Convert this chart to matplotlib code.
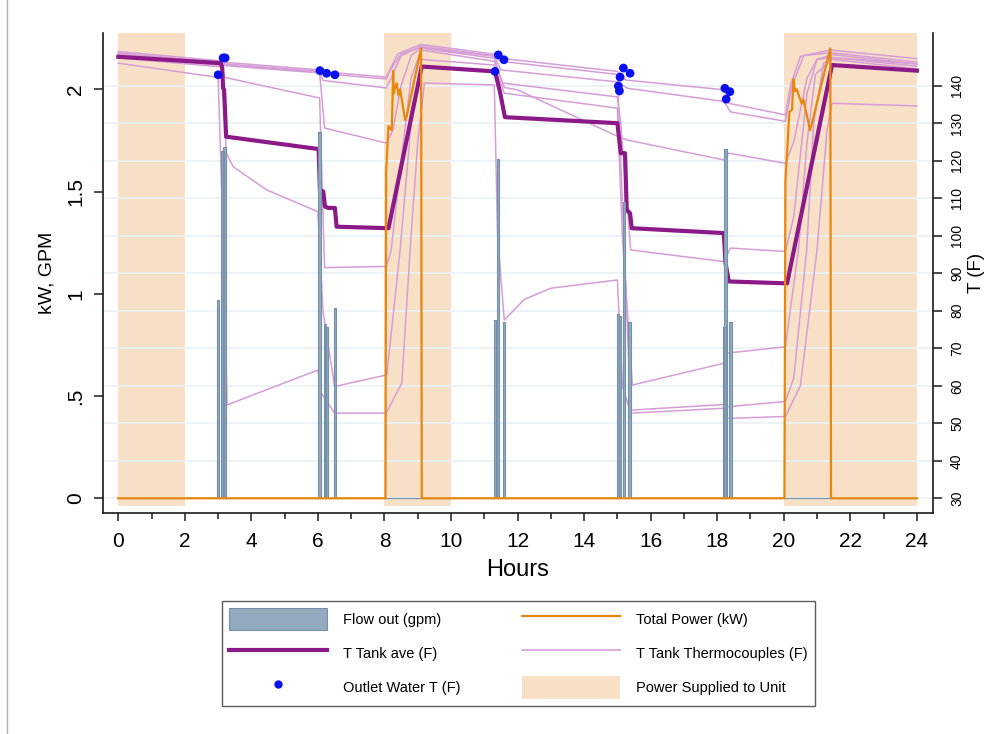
import matplotlib
matplotlib.use('Agg')
import matplotlib.pyplot as plt
from matplotlib.lines import Line2D
from matplotlib.patches import Patch

plt.rcParams['font.family'] = ['Liberation Sans', 'DejaVu Sans']

# --- data (hours, value) ---
shade_start = [0, 8, 20]
shade_end = [2, 10, 24]

# flow out spikes (gpm)
flow_t = [3.00, 3.13, 3.20, 6.05, 6.21, 6.26, 6.51, 11.32, 11.41, 11.59,
          15.02, 15.08, 15.20, 15.37, 18.22, 18.25, 18.40]
flow_gpm = [0.97, 1.70, 1.72, 1.79, 0.85, 0.84, 0.93, 0.87, 1.66, 0.86,
            0.90, 0.89, 1.45, 0.86, 0.84, 1.71, 0.86]

# total power (kW)
power_h = [0, 8.03, 8.05, 8.12, 8.22, 8.26, 8.28, 8.32, 8.37, 8.42, 8.47, 8.62, 8.67, 9.10, 9.12,
           20.02, 20.05, 20.17, 20.25, 20.29, 20.34, 20.39, 20.54, 20.59, 20.79, 20.84, 21.40, 21.42, 24]
power_kw = [0, 0, 1.60, 1.82, 1.80, 2.09, 1.98, 2.01, 2.03, 1.97, 2.00, 1.85, 1.87, 2.20, 0,
            0, 1.55, 1.89, 1.90, 2.05, 1.99, 2.00, 1.93, 1.95, 1.80, 1.83, 2.20, 0, 0]

# tank average temperature (F)
ave_h = [0, 3.08, 3.12, 3.15, 3.18, 3.24, 6.02, 6.06, 6.16, 6.21, 6.31, 6.51, 6.56, 8.12, 9.12,
         11.32, 11.47, 11.62, 15.0, 15.1, 15.23, 15.28, 15.38, 15.43, 18.2, 18.25, 18.35, 20.1, 21.45, 24]
ave_T = [147.7, 146.0, 145.0, 139.3, 138.9, 126.4, 123.1, 112.2, 111.8, 107.8, 107.4, 107.4, 102.4, 102.0, 145.1,
         143.8, 138.4, 131.6, 130.0, 122.0, 122.0, 106.9, 106.0, 102.0, 100.7, 92.7, 87.8, 87.3, 145.5, 144.0]

# individual thermocouples (hours, F)
tc1 = [(0, 149.1), (3.1, 146.6), (3.25, 146.2), (6.05, 144.2), (6.15, 143.7), (8.05, 142.3), (8.15, 144),
       (8.4, 148.5), (9.1, 151), (11.3, 148.4), (11.5, 147.3), (15.0, 143.8), (15.25, 141.5), (18.2, 138.9),
       (18.35, 135.3), (20.05, 132.2), (20.2, 140), (20.5, 147.8), (21.4, 149.5), (24, 147.2)]
tc2 = [(0, 148.7), (3.1, 146.2), (3.25, 145.8), (6.05, 143.8), (6.15, 141.4), (8.05, 139.4), (8.2, 142),
       (8.5, 148), (9.1, 150.5), (11.3, 148), (11.5, 144.2), (15.0, 141), (15.3, 139.3), (18.2, 135.8),
       (18.4, 133), (20.05, 130.5), (20.25, 140), (20.6, 148), (21.4, 148.8), (24, 146.3)]
tc3 = [(0, 148.2), (3.1, 145.8), (3.25, 145.3), (6.05, 143.4), (6.2, 128.7), (8.05, 124.7), (8.25, 128),
       (8.5, 140), (8.8, 148), (9.1, 150), (11.3, 147.3), (11.55, 140.7), (15.0, 137), (15.1, 130),
       (15.4, 96.2), (18.2, 93.1), (18.4, 96.7), (20.05, 95.8), (20.3, 105), (20.7, 138), (21.0, 147),
       (21.45, 148.3), (24, 145.8)]
tc4 = [(0, 147.8), (3.1, 145.4), (3.2, 142.2), (6.05, 136.7), (6.2, 91.5), (8.05, 91.8), (8.2, 96),
       (8.5, 120), (8.8, 142), (9.1, 149.5), (11.3, 146.5), (11.6, 139.5), (12.0, 138.9), (15.0, 126.5),
       (15.3, 125.5), (18.2, 120.2), (18.35, 122), (20.05, 119.3), (20.3, 125), (20.7, 142), (21.0, 147),
       (21.45, 147.5), (24, 145.2)]
tc5 = [(0, 147.4), (3.1, 145), (3.25, 122), (3.45, 118.4), (4.46, 112.2), (6.0, 106.4), (6.15, 80),
       (6.5, 59.8), (8.07, 62.9), (8.47, 96.2), (8.8, 130), (9.1, 147), (11.3, 145.5), (11.6, 138),
       (15.0, 134), (15.15, 100), (15.45, 60.2), (18.2, 66), (18.3, 68.7), (20.05, 70.4), (20.44, 96.2),
       (20.7, 125), (20.95, 143), (21.45, 147), (24, 144.5)]
tc6 = [(0, 146), (3.0, 142.2), (3.15, 100), (3.27, 54.9), (6.0, 64.2), (6.1, 58), (6.5, 52.7), (8.05, 52.7),
       (8.52, 60.7), (8.77, 96.2), (9.0, 125), (9.2, 140.7), (11.3, 140.2), (11.4, 100), (11.6, 77.5),
       (12.2, 83), (13.0, 86), (15.0, 88.2), (15.15, 60), (15.4, 52.7), (18.2, 54), (18.3, 51.3),
       (20.05, 51.8), (20.5, 60), (21.0, 96.2), (21.3, 128), (21.45, 135.3), (24, 134.6)]
tc7 = [(0, 148.5), (3.1, 146), (3.25, 145.6), (6.05, 143.6), (6.15, 143.2), (8.05, 141.8), (8.2, 144.5),
       (8.5, 148.5), (9.1, 150.2), (11.3, 147.8), (11.5, 146.5), (15.0, 143), (15.1, 120), (15.4, 53.5),
       (18.2, 55), (18.3, 54.4), (20.05, 55.8), (20.3, 62), (20.69, 96.2), (20.9, 130), (21.2, 146),
       (21.45, 147.5), (24, 145.8)]
thermocouples = [tc1, tc2, tc3, tc4, tc5, tc6, tc7]

# outlet water temperature (F)
outlet_h = [3.00, 3.15, 3.21, 6.06, 6.26, 6.51, 11.32, 11.42, 11.59,
            15.03, 15.06, 15.08, 15.18, 15.38, 18.23, 18.27, 18.38]
outlet_T = [142.9, 147.4, 147.4, 144.0, 143.3, 142.9, 143.8, 148.2, 146.9,
            139.9, 138.6, 142.3, 144.7, 143.3, 139.3, 136.4, 138.4]

# --- colours ---
shade_col = '#f7e0c6'
grid_col = '#e9f2f4'
flow_col = '#93a9be'
flow_edge = '#7590a9'
power_col = '#e8870e'
ave_col = '#8b1a88'
tc_col = '#d69dd6'
dot_col = '#0a10ee'
spine_col = '#1a1a1a'

fig = plt.figure(figsize=(10.05, 7.34), dpi=100)
ax = fig.add_axes([0.1022, 0.3011, 0.8259, 0.6544])
ax2 = ax.twinx()
ax.set_zorder(ax2.get_zorder() + 1)
ax.patch.set_visible(False)

# temperature axis: shading, grid, temperatures
for a, b in zip(shade_start, shade_end):
    ax2.axvspan(a, b, ymin=0.015, ymax=1, color=shade_col, lw=0, zorder=0)
ax2.set_yticks(range(30, 150, 10))
ax2.set_axisbelow(True)
ax2.yaxis.grid(True, color=grid_col, lw=1.3)
for tc in thermocouples:
    h, t = zip(*tc)
    ax2.plot(h, t, color=tc_col, lw=1.1, zorder=2)
ax2.plot(ave_h, ave_T, color=ave_col, lw=3, zorder=3, solid_joinstyle='round')
ax2.scatter(outlet_h, outlet_T, s=40, color=dot_col, edgecolor='none', zorder=4)

# kW / gpm axis: flow spikes and power
hw = 0.04
fx, fy = [0], [0]
for t, g in zip(flow_t, flow_gpm):
    fx += [t - hw, t - hw, t + hw, t + hw]
    fy += [0, g, g, 0]
fx.append(24)
fy.append(0)
ax.fill(fx, fy, color=flow_col, lw=0, zorder=1)
ax.plot(fx, fy, color=flow_edge, lw=0.8, zorder=2)
ax.plot(power_h, power_kw, color=power_col, lw=1.6, zorder=3)

ax.set_xlim(-0.469, 24.478)
ax.set_ylim(-0.072, 2.277)
ax2.set_ylim(26.08, 154.13)

ax.set_xticks(range(0, 25, 2))
ax.set_xticks(range(0, 25, 1), minor=True)
ax.tick_params(axis='x', which='major', length=5.5, width=1.1, labelsize=15, pad=8, color=spine_col)
ax.tick_params(axis='x', which='minor', length=4.5, width=1.1, color=spine_col)
ax.set_yticks([0, 0.5, 1, 1.5, 2])
ax.set_yticklabels(['0', '.5', '1', '1.5', '2'], rotation=90, va='center')
ax.tick_params(axis='y', length=6.5, width=1.1, labelsize=15, pad=6, color=spine_col)
ax2.set_yticklabels([str(v) for v in range(30, 150, 10)], rotation=90, va='center')
ax2.tick_params(axis='y', length=6.5, width=1.1, labelsize=10, pad=6, color=spine_col)

for s in ['top', 'right']:
    ax.spines[s].set_visible(False)
for s in ['top', 'left', 'bottom']:
    ax2.spines[s].set_visible(False)
for sp in [ax.spines['left'], ax.spines['bottom'], ax2.spines['right']]:
    sp.set_color(spine_col)
    sp.set_linewidth(1.2)

ax.set_xlabel('Hours', fontsize=17, labelpad=6)
ax.set_ylabel('kW, GPM', fontsize=14, labelpad=8)
ax2.set_ylabel('T (F)', fontsize=13.5, labelpad=3)

# legend
handles = [
    Patch(facecolor=flow_col, edgecolor=flow_edge, lw=0.8),
    Line2D([], [], color=ave_col, lw=3),
    Line2D([], [], color=dot_col, marker='o', ls='none', markersize=5),
    Line2D([], [], color=power_col, lw=1.6),
    Line2D([], [], color=tc_col, lw=1.2),
    Patch(facecolor=shade_col, edgecolor='none'),
]
labels = ['Flow out (gpm)', 'T Tank ave (F)', 'Outlet Water T (F)',
          'Total Power (kW)', 'T Tank Thermocouples (F)', 'Power Supplied to Unit']
leg = fig.legend(handles, labels, loc='lower left', bbox_to_anchor=(0.2209, 0.0381, 0.5900, 0.1471),
                 mode='expand', ncol=2, fontsize=10.5, frameon=True, fancybox=False,
                 handlelength=6.7, handleheight=2.0, handletextpad=1.1, labelspacing=0.8,
                 borderpad=0.5, numpoints=1, borderaxespad=0)
leg.get_frame().set_edgecolor('#333333')
leg.get_frame().set_linewidth(1.0)

fig.add_artist(Line2D([0.007, 0.007], [0, 1], transform=fig.transFigure, color='#b0b0b0', lw=1))

fig.savefig('out.png', dpi=100)
